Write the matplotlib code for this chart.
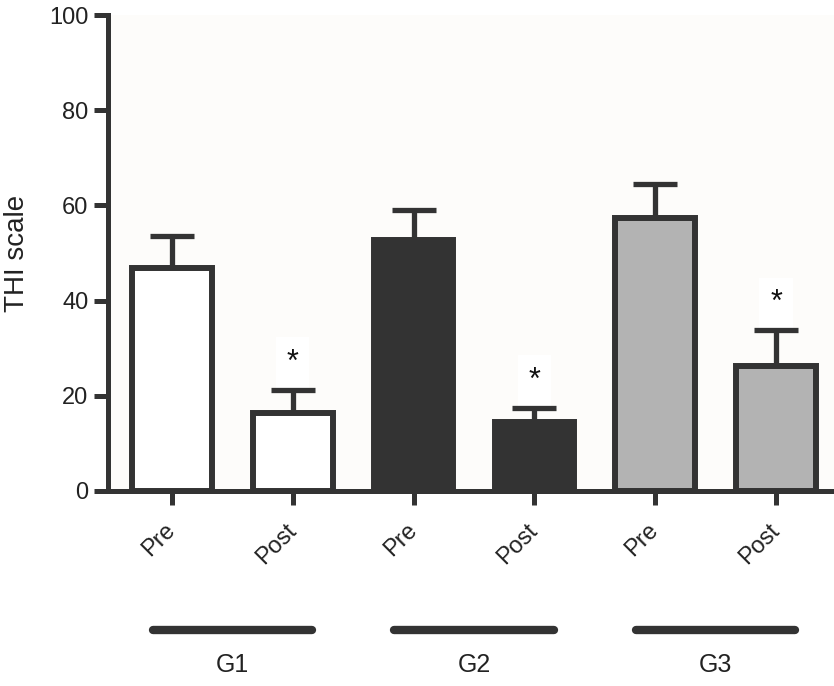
import numpy as np
import matplotlib
matplotlib.use('Agg')
from matplotlib import pyplot as plt
import matplotlib.transforms as mtransforms

plt.rcParams['font.family'] = ['Liberation Sans', 'DejaVu Sans']

groups = ['G1', 'G2', 'G3']
phases = ['Pre', 'Post', 'Pre', 'Post', 'Pre', 'Post']
means = [46.8, 16.3, 52.8, 14.4, 57.3, 26.3]
sems = [6.8, 5.0, 6.2, 3.1, 7.3, 7.5]
signif = [False, True, False, True, False, True]
colors = ['#ffffff', '#ffffff', '#333333', '#333333', '#b3b3b3', '#b3b3b3']

dark = '#333333'
txt = '#222222'

fig = plt.figure(figsize=(8.34, 6.86), dpi=100)
ax = fig.add_axes([0.1295, 0.2843, 0.8705, 0.6938])
ax.set_facecolor('#fdfcfa')

x = np.arange(len(means))
ax.bar(x, means, width=0.66, color=colors, edgecolor=dark, linewidth=4.3, zorder=2)
ax.errorbar(x, means, yerr=[np.zeros(len(sems)), sems], fmt='none',
            ecolor=dark, elinewidth=3.8, capsize=16, capthick=3.8, zorder=1)

# significance marks over the post bars
for xi, m, s, sig in zip(x, means, sems, signif):
    if sig:
        ax.text(xi, m + s + 2.5, '*', ha='center', va='bottom', fontsize=22, color='#111111',
                zorder=0.5, bbox=dict(boxstyle='square,pad=0.35', fc='white', ec='none'))

ax.set_xlim(-0.53, 5.48)
ax.set_ylim(0, 100)
ax.set_yticks([0, 20, 40, 60, 80, 100])
ax.set_xticks(x)
ax.set_xticklabels(phases, rotation=45, ha='right', va='center', rotation_mode='anchor')
ax.tick_params(axis='both', width=3.6, length=10, color=dark, labelsize=17, colors=txt)
ax.tick_params(axis='x', pad=16)
ax.tick_params(axis='y', pad=4)
for sp in ['top', 'right']:
    ax.spines[sp].set_visible(False)
for sp in ['left', 'bottom']:
    ax.spines[sp].set_linewidth(3.6)
    ax.spines[sp].set_color(dark)
ax.set_ylabel('THI scale', fontsize=20, color=txt, labelpad=14)

# group bars and names under the axis
trans = mtransforms.blended_transform_factory(ax.transData, ax.transAxes)
for i, g in enumerate(groups):
    c = 2 * i + 0.5
    ax.plot([c - 0.66, c + 0.66], [-0.292, -0.292], transform=trans, color=dark,
            linewidth=6, solid_capstyle='round', clip_on=False)
    ax.text(c, -0.366, g, transform=trans, ha='center', va='center', fontsize=18, color=txt)

fig.savefig('out.png', dpi=100, facecolor='white')
